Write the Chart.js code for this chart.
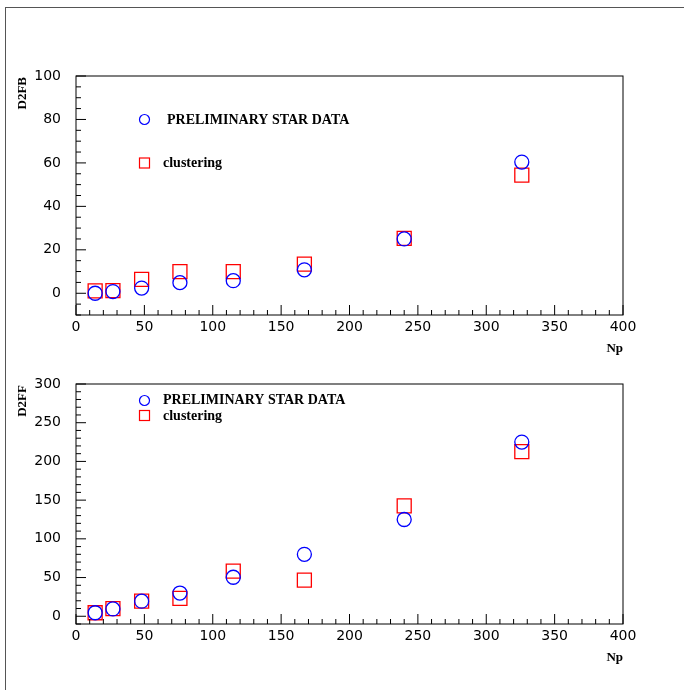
<!DOCTYPE html>
<html>
<head>
<meta charset="utf-8">
<script src="https://cdn.jsdelivr.net/npm/chart.js@4.4.0/dist/chart.umd.min.js"></script>
<style>
	body { margin: 0; background: #fff; }
	#marco { position: absolute; left: 5px; top: 7px; width: 679px; height: 683px; border-top: 1px solid #555; border-left: 1px solid #555; }
	canvas { position: absolute; left: 0; }
	#grafica-fb { top: 0; z-index: 2; }
	#grafica-ff { top: 345px; z-index: 1; }
</style>
</head>
<body>
<div id="marco"></div>
<canvas id="grafica-fb" width="684" height="362"></canvas>
<canvas id="grafica-ff" width="684" height="345"></canvas>
<script>
/*******************************************************************************
 * Datos
 *******************************************************************************/

var np = [14, 27, 48, 76, 115, 167, 240, 326];

var d2fb_star = [0.0, 0.8, 2.4, 4.9, 5.8, 10.8, 25.0, 60.4];
var d2fb_clustering = [1.1, 1.2, 6.4, 10.0, 10.0, 13.4, 25.3, 54.4];

var d2ff_star = [4.5, 9.5, 19.5, 30.0, 50.4, 80.0, 125.0, 225.0];
var d2ff_clustering = [4.5, 9.8, 19.5, 23.2, 58.3, 46.7, 142.5, 212.7];

var ticks_x = [0, 50, 100, 150, 200, 250, 300, 350, 400];
var ticks_fb = [0, 20, 40, 60, 80, 100];
var ticks_ff = [0, 50, 100, 150, 200, 250, 300];

var leyenda = ["PRELIMINARY STAR DATA", "clustering"];

/*******************************************************************************
 * Marco, ticks interiores, titulos y leyenda
 *******************************************************************************/

function pluginMarco(opc)
{
	return {
		id: 'marco',
		afterDraw: function (chart) {
			var ctx = chart.ctx;
			var a = chart.chartArea;
			var sx = chart.scales.x;
			var sy = chart.scales.y;
			var v, p, largo;

			ctx.save();
			ctx.strokeStyle = '#000';
			ctx.lineWidth = 1;
			ctx.strokeRect(a.left, a.top, a.right - a.left, a.bottom - a.top);

			ctx.beginPath();
			for (v = 0; v <= 400; v += 10) {
				p = sx.getPixelForValue(v);
				largo = (v % 50 === 0) ? 10 : 5;
				ctx.moveTo(p, a.bottom);
				ctx.lineTo(p, a.bottom - largo);
			}
			for (v = opc.min_y; v <= opc.max_y; v += opc.paso_menor) {
				p = sy.getPixelForValue(v);
				largo = (v % opc.paso_mayor === 0) ? 10 : 5;
				ctx.moveTo(a.left, p);
				ctx.lineTo(a.left + largo, p);
			}
			ctx.stroke();

			// titulos de los ejes
			ctx.fillStyle = '#000';
			ctx.font = 'bold 13px "Liberation Serif"';
			ctx.textAlign = 'right';
			ctx.textBaseline = 'alphabetic';
			ctx.fillText('Np', a.right, a.bottom + 37);

			ctx.save();
			ctx.translate(a.left - 50, a.top + 1);
			ctx.rotate(-Math.PI / 2);
			ctx.fillText(opc.titulo_y, 0, 0);
			ctx.restore();

			// leyenda
			ctx.lineWidth = 1.2;
			ctx.strokeStyle = '#0000ff';
			ctx.beginPath();
			ctx.arc(a.left + 68.5, a.top + opc.ley_circulo, 5, 0, 2 * Math.PI);
			ctx.stroke();
			ctx.strokeStyle = '#ff0000';
			ctx.strokeRect(a.left + 63.5, a.top + opc.ley_cuadro - 5, 10, 10);

			ctx.font = 'bold 14px "Liberation Serif"';
			ctx.textAlign = 'left';
			ctx.fillText(leyenda[0], a.left + opc.ley_texto1_x, a.top + opc.ley_texto1_y);
			ctx.fillText(leyenda[1], a.left + 87, a.top + opc.ley_texto2_y);
			ctx.restore();
		}
	};
}

/*******************************************************************************
 * Graficas
 *******************************************************************************/

function puntos(valores)
{
	return np.map(function (x, i) { return {x: x, y: valores[i]}; });
}

function creaGrafica(id, star, clustering, ticks_y, opc)
{
	var fuente_ticks = {family: 'DejaVu Sans', size: 14};

	return new Chart(document.getElementById(id).getContext('2d'), {
		type: 'scatter',
		data: {
			datasets: [{
				label: leyenda[0],
				data: puntos(star),
				pointStyle: 'circle',
				pointRadius: 7,
				borderWidth: 1.3,
				borderColor: '#0000ff',
				backgroundColor: 'rgba(0,0,0,0)'
			}, {
				label: leyenda[1],
				data: puntos(clustering),
				pointStyle: 'rect',
				pointRadius: 9.9,
				borderWidth: 1.3,
				borderColor: '#ff0000',
				backgroundColor: 'rgba(0,0,0,0)'
			}]
		},
		options: {
			responsive: false,
			animation: false,
			layout: {
				padding: {left: 0, top: opc.arriba, right: 61, bottom: 0}
			},
			plugins: {
				legend: { display: false },
				tooltip: { enabled: false }
			},
			scales: {
				x: {
					type: 'linear',
					min: 0,
					max: 400,
					grid: { display: false, drawTicks: false },
					border: { display: false },
					afterBuildTicks: function (s) { s.ticks = ticks_x.map(function (v) { return {value: v}; }); },
					afterFit: function (s) { s.height = opc.alto_x; },
					ticks: { padding: 4, color: '#000', font: fuente_ticks, maxRotation: 0, autoSkip: false }
				},
				y: {
					type: 'linear',
					min: opc.min_y,
					max: opc.max_y,
					grid: { display: false, drawTicks: false },
					border: { display: false },
					afterBuildTicks: function (s) { s.ticks = ticks_y.map(function (v) { return {value: v}; }); },
					afterFit: function (s) { s.width = 76; },
					ticks: { padding: 15, color: '#000', font: fuente_ticks, autoSkip: false }
				}
			}
		},
		plugins: [pluginMarco(opc)]
	});
}

creaGrafica('grafica-fb', d2fb_star, d2fb_clustering, ticks_fb, {
	min_y: -10, max_y: 100, paso_menor: 5, paso_mayor: 20,
	arriba: 76, alto_x: 47, titulo_y: 'D2FB',
	ley_circulo: 43.5, ley_cuadro: 87, ley_texto1_x: 91, ley_texto1_y: 48, ley_texto2_y: 91
});

creaGrafica('grafica-ff', d2ff_star, d2ff_clustering, ticks_ff, {
	min_y: -10, max_y: 300, paso_menor: 10, paso_mayor: 50,
	arriba: 39, alto_x: 66, titulo_y: 'D2FF',
	ley_circulo: 16.5, ley_cuadro: 31.5, ley_texto1_x: 87, ley_texto1_y: 20, ley_texto2_y: 36
});
</script>
</body>
</html>
